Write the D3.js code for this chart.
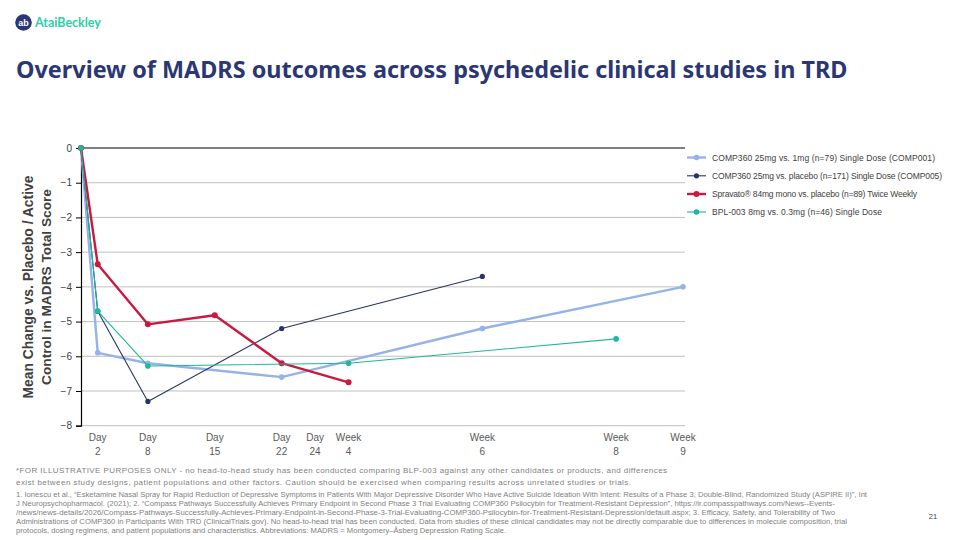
<!DOCTYPE html>
<html>
<head>
<meta charset="utf-8">
<script src="https://cdn.jsdelivr.net/npm/d3@7"></script>
<style>
  body { margin: 0; background: #fff; }
  svg { display: block; font-family: "Liberation Sans", Arial, sans-serif; }
</style>
</head>
<body>
<svg></svg>
<script>
// time positions are in half-week steps, as on the slide's axis
const tickPos = [0.5, 2, 4, 6, 7, 8, 12, 16, 18];
const tickTop = ["Day", "Day", "Day", "Day", "Day", "Week", "Week", "Week", "Week"];
const tickBottom = ["2", "8", "15", "22", "24", "4", "6", "8", "9"];
const yTicks = [0, -1, -2, -3, -4, -5, -6, -7, -8];

const comp001Pos = [0, 0.5, 2, 6, 12, 18];
const comp001Vals = [0, -5.9, -6.2, -6.6, -5.2, -4.0];
const comp005Pos = [0, 0.5, 2, 6, 12];
const comp005Vals = [0, -4.7, -7.3, -5.2, -3.7];
const spravatoPos = [0, 0.5, 2, 4, 6, 8];
const spravatoVals = [0, -3.35, -5.08, -4.82, -6.2, -6.75];
const bplPos = [0, 0.5, 2, 8, 16];
const bplVals = [0, -4.7, -6.28, -6.2, -5.5];

const seriesNames = [
    "COMP360 25mg vs. 1mg (n=79) Single Dose (COMP001)",
    "COMP360 25mg vs. placebo (n=171) Single Dose (COMP005)",
    "Spravato\u00ae 84mg mono vs. placebo (n=89) Twice Weekly",
    "BPL-003 8mg vs. 0.3mg (n=46) Single Dose"
];

const footnote = [
    "*FOR ILLUSTRATIVE PURPOSES ONLY - no head-to-head study has been conducted comparing BLP-003 against any other candidates or products, and differences",
    "exist between study designs, patient populations and other factors. Caution should be exercised when comparing results across unrelated studies or trials."
];
const refs = [
    "1. Ionescu et al., \u201cEsketamine Nasal Spray for Rapid Reduction of Depressive Symptoms in Patients With Major Depressive Disorder Who Have Active Suicide Ideation With Intent: Results of a Phase 3, Double-Blind, Randomized Study (ASPIRE II)\u201d, Int",
    "J Neuropsychopharmacol. (2021); 2. \u201cCompass Pathways Successfully Achieves Primary Endpoint in Second Phase 3 Trial Evaluating COMP360 Psilocybin for Treatment-Resistant Depression\u201d, https://ir.compasspathways.com/News--Events-",
    "/news/news-details/2026/Compass-Pathways-Successfully-Achieves-Primary-Endpoint-in-Second-Phase-3-Trial-Evaluating-COMP360-Psilocybin-for-Treatment-Resistant-Depression/default.aspx; 3. Efficacy, Safety, and Tolerability of Two",
    "Administrations of COMP360 in Participants With TRD (ClinicalTrials.gov). No head-to-head trial has been conducted. Data from studies of these clinical candidates may not be directly comparable due to differences in molecule composition, trial",
    "protocols, dosing regimens, and patient populations and characteristics. Abbreviations: MADRS = Montgomery\u2013\u00c5sberg Depression Rating Scale."
];
const refWidths = [851, 819, 819, 831, 490];

// scale font size so the text takes the given width
const fitWidth = (sel, w) => {
    sel.each(function(d, i) {
        const target = typeof w === "function" ? w(d, i) : w;
        const fs = parseFloat(d3.select(this).attr("font-size"));
        const len = this.getComputedTextLength();
        if (len > 0) d3.select(this).attr("font-size", fs * target / len);
    });
};

document.addEventListener("DOMContentLoaded", function() {
    const width = 960;
    const height = 540;
    const svg = d3.select("svg")
        .attr("width", width)
        .attr("height", height);

    svg.append("rect").attr("width", width).attr("height", height).attr("fill", "#fff");

    // logo
    const logo = svg.append("g");
    logo.append("circle").attr("cx", 23.5).attr("cy", 22.5).attr("r", 8.3).attr("fill", "#2b3674");
    logo.append("text").attr("x", 23.5).attr("y", 25.5).attr("text-anchor", "middle")
        .attr("font-size", 9).attr("font-weight", "bold").attr("fill", "#fff").text("ab");
    logo.append("text").attr("x", 35).attr("y", 26.8)
        .attr("font-family", "Lato, sans-serif").attr("font-size", 12.5).attr("font-weight", "bold")
        .attr("fill", "#2ccfa6")
        .text("AtaiBeckley")
        .call(fitWidth, 66);

    // title
    svg.append("text").attr("x", 16).attr("y", 77.5)
        .attr("font-family", "'Noto Sans', sans-serif").attr("font-size", 24).attr("font-weight", "bold")
        .attr("fill", "#2b3674")
        .text("Overview of MADRS outcomes across psychedelic clinical studies in TRD")
        .call(fitWidth, 832);

    const x = d3.scaleLinear().domain([0, 18]).range([81, 683]);
    const y = d3.scaleLinear().domain([-8, 0]).range([425.7, 148]);
    const gridRight = 685;

    // gridlines
    svg.append("g").selectAll("line").data(yTicks.filter(d => d !== 0)).join("line")
        .attr("x1", x(0)).attr("x2", gridRight)
        .attr("y1", d => y(d)).attr("y2", d => y(d))
        .attr("stroke", "#bfbfbf").attr("stroke-width", 1);

    // y axis
    const yAxis = svg.append("g")
        .attr("transform", `translate(${x(0)},0)`)
        .call(d3.axisLeft(y).tickValues(yTicks).tickSize(5).tickFormat(d3.format("d")));
    yAxis.select(".domain").attr("stroke", "#000").attr("stroke-width", 1.2);
    yAxis.selectAll(".tick line").attr("stroke", "#000");
    yAxis.selectAll(".tick text").attr("font-size", 10).attr("fill", "#404040")
        .attr("font-family", "'Liberation Sans', Arial, sans-serif").attr("x", -9);

    // zero line
    svg.append("line").attr("x1", x(0)).attr("x2", gridRight)
        .attr("y1", y(0)).attr("y2", y(0)).attr("stroke", "#000").attr("stroke-width", 1.2);

    // x labels
    const xl = svg.append("g").selectAll("g").data(tickPos).join("g")
        .attr("transform", d => `translate(${x(d)},0)`)
        .attr("font-size", 10).attr("fill", "#595959").attr("text-anchor", "middle");
    xl.append("text").attr("y", 441).text((d, i) => tickTop[i]);
    xl.append("text").attr("y", 455).text((d, i) => tickBottom[i]);

    // y title
    const yt = svg.append("g").attr("font-weight", "bold")
        .attr("fill", "#404040").attr("text-anchor", "middle");
    yt.append("text").attr("transform", "translate(32.5,287) rotate(-90)")
        .attr("font-size", 12.5)
        .text("Mean Change vs. Placebo / Active")
        .call(fitWidth, 223);
    yt.append("text").attr("transform", "translate(50.5,287) rotate(-90)")
        .attr("font-size", 12.5)
        .text("Control in MADRS Total Score")
        .call(fitWidth, 196);

    const series = [
        { pos: comp001Pos, vals: comp001Vals, color: "#95b3e8", w: 2.4, r: 2.8 },
        { pos: comp005Pos, vals: comp005Vals, color: "#273469", w: 1.1, r: 2.6 },
        { pos: spravatoPos, vals: spravatoVals, color: "#c9193f", w: 2.4, r: 3 },
        { pos: bplPos, vals: bplVals, color: "#1cb99b", w: 1.1, r: 2.8 }
    ];

    const line = d3.line().x(d => x(d[0])).y(d => y(d[1]));

    series.forEach(s => {
        const pts = s.pos.map((p, i) => [p, s.vals[i]]);
        const g = svg.append("g");
        g.append("path").datum(pts).attr("d", line)
            .attr("fill", "none").attr("stroke", s.color).attr("stroke-width", s.w)
            .attr("stroke-linejoin", "round");
        g.selectAll("circle").data(pts).join("circle")
            .attr("cx", d => x(d[0])).attr("cy", d => y(d[1])).attr("r", s.r)
            .attr("fill", s.color);
    });

    // legend
    const legY = [157.5, 175.8, 194, 212];
    const leg = svg.append("g").selectAll("g").data(series).join("g")
        .attr("transform", (d, i) => `translate(687,${legY[i]})`);
    leg.append("line").attr("x1", 0).attr("x2", 19).attr("y1", 0).attr("y2", 0)
        .attr("stroke", d => d.color).attr("stroke-width", d => d.w);
    leg.append("circle").attr("cx", 9.5).attr("cy", 0).attr("r", d => d.r).attr("fill", d => d.color);
    const legW = [223, 230, 205, 170];
    leg.append("text").attr("x", 25).attr("y", 3)
        .attr("font-size", 8.5).attr("fill", "#404040")
        .attr("textLength", (d, i) => legW[i]).attr("lengthAdjust", "spacing")
        .text((d, i) => seriesNames[i]);

    // footnotes
    const fnW = [651, 615];
    svg.append("g").selectAll("text").data(footnote).join("text")
        .attr("x", 16).attr("y", (d, i) => 472.5 + i * 12)
        .attr("font-size", 8).attr("fill", "#7f7f7f")
        .attr("textLength", (d, i) => fnW[i]).attr("lengthAdjust", "spacing")
        .text(d => d);

    svg.append("g").selectAll("text").data(refs).join("text")
        .attr("x", 16).attr("y", (d, i) => 497 + i * 9)
        .attr("font-size", 6.6).attr("fill", "#7f7f7f")
        .attr("textLength", (d, i) => refWidths[i]).attr("lengthAdjust", "spacingAndGlyphs")
        .text(d => d);

    svg.append("text").attr("x", 933).attr("y", 519).attr("text-anchor", "middle")
        .attr("font-size", 7.5).attr("fill", "#404040").text("21");
});
</script>
</body>
</html>
